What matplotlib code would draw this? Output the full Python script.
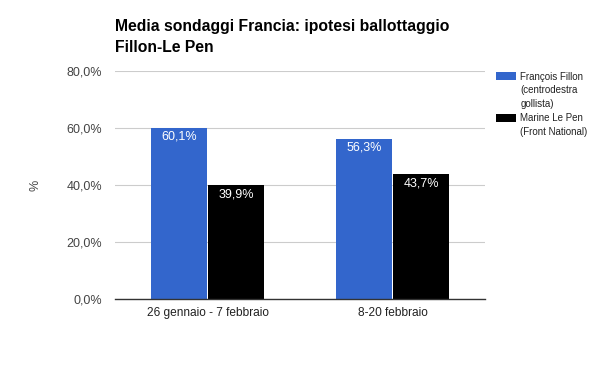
import numpy as np
import matplotlib.pyplot as plt
from matplotlib.patches import Patch

plt.rcParams['font.family'] = ['Liberation Sans', 'DejaVu Sans']

categories = ['26 gennaio - 7 febbraio', '8-20 febbraio']
fillon = [60.1, 56.3]
lepen = [39.9, 43.7]
legend_lines = [['François Fillon', '(centrodestra', 'gollista)'], ['Marine Le Pen', '(Front National)']]
colors = ['#3366cc', '#000000']
yticks = [0, 20, 40, 60, 80]

fig = plt.figure(figsize=(6, 3.71), dpi=100)
ax = fig.add_axes([0.1917, 0.194, 0.6166, 0.6146])

x = np.arange(len(categories))
w = 0.306
b1 = ax.bar(x - w / 2 - 0.002, fillon, w, color=colors[0], zorder=2)
b2 = ax.bar(x + w / 2 + 0.002, lepen, w, color=colors[1], zorder=2)

for bars, vals in [(b1, fillon), (b2, lepen)]:
    for r, v in zip(bars, vals):
        ax.text(r.get_x() + r.get_width() / 2, v - 1.0, ('%.1f%%' % v).replace('.', ','),
                ha='center', va='top', color='white', fontsize=9)

ax.set_xlim(-0.5, 1.5)
ax.set_ylim(0, 80)
ax.set_yticks(yticks)
ax.set_yticklabels([('%.1f%%' % t).replace('.', ',') for t in yticks], color='#444444', fontsize=9)
ax.set_xticks(x)
ax.set_xticklabels(categories, color='#222222', fontsize=8.6)
ax.tick_params(length=0)
ax.tick_params(axis='y', pad=9.5)
ax.tick_params(axis='x', pad=6)
ax.grid(axis='y', color='#cccccc', linewidth=0.8, zorder=0)
for s in ['top', 'right', 'left']:
    ax.spines[s].set_visible(False)
ax.spines['bottom'].set_color('#333333')
ax.spines['bottom'].set_linewidth(1)
ax.spines['bottom'].set_zorder(3)

ax.set_ylabel('%', color='#444444', fontsize=9)
ax.yaxis.set_label_coords(-0.198, 0.5)

fig.text(0.1917, 0.95, 'Media sondaggi Francia: ipotesi ballottaggio\nFillon-Le Pen',
         fontsize=11.3, fontweight='bold', va='top', ha='left', color='#000000', linespacing=1.55)

# legend: one row per text line, swatch only on the first line of each entry
handles, labels = [], []
for c, lines in zip(colors, legend_lines):
    for i, line in enumerate(lines):
        handles.append(Patch(facecolor=c if i == 0 else 'none', edgecolor='none'))
        labels.append(line)
leg = ax.legend(handles, labels, loc='upper left', bbox_to_anchor=(0.8265, 0.807),
                bbox_transform=fig.transFigure, frameon=False, fontsize=7,
                handlelength=2.05, handleheight=0.95, handletextpad=0.45,
                labelspacing=0.4, borderaxespad=0, borderpad=0)
for t in leg.get_texts():
    t.set_color('#222222')

fig.savefig('out.png', dpi=100)
